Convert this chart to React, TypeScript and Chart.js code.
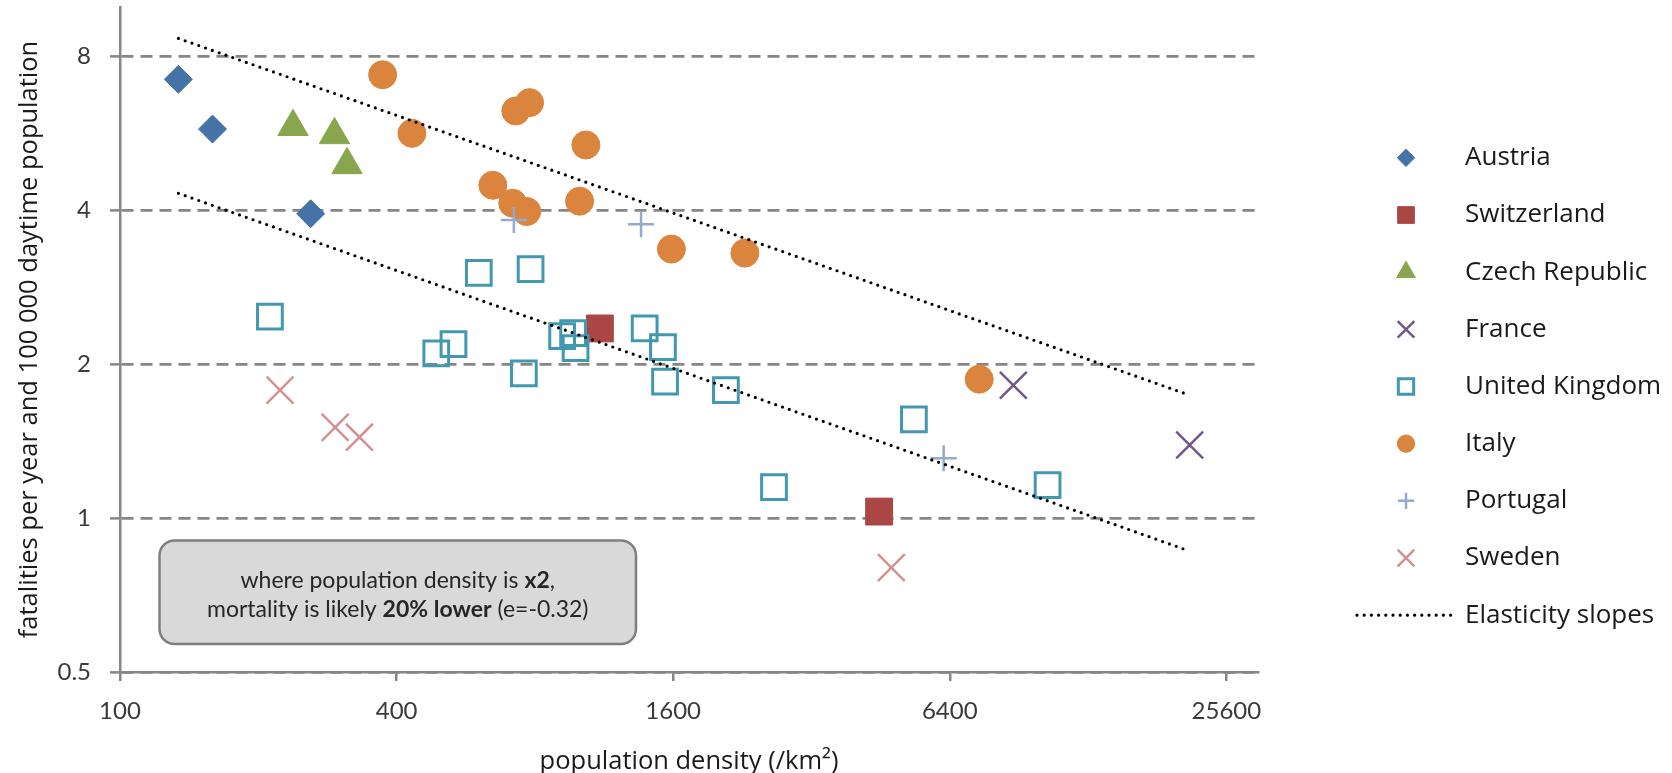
import React, { useEffect, useRef } from 'react';
import { Chart, registerables } from 'chart.js';
import { drawPoint } from 'chart.js/helpers';

Chart.register(...registerables);

// ---------- data ----------
const X_TICKS = [100, 400, 1600, 6400, 25600];
const Y_TICKS = [0.5, 1, 2, 4, 8];
const X_MIN = 100;
const X_MAX = 30000;
const Y_MIN = 0.5;
const Y_MAX = 10;

const austriaX = [134, 159, 260];
const austriaY = [7.22, 5.77, 3.94];
const switzerlandX = [1108, 4492];
const switzerlandY = [2.35, 1.03];
const czechX = [238, 293, 312];
const czechY = [5.83, 5.62, 4.91];
const franceX = [8800, 21300];
const franceY = [1.82, 1.39];
const ukX = [212, 488, 532, 604, 757, 783, 917, 969, 981, 1387, 1520, 1536, 2084, 2652, 5347, 10450];
const ukY = [2.48, 2.1, 2.19, 3.02, 1.92, 3.07, 2.27, 2.3, 2.15, 2.35, 2.16, 1.85, 1.78, 1.15, 1.56, 1.16];
const italyX = [373, 432, 648, 716, 727, 768, 779, 1001, 1033, 1586, 2292, 7418];
const italyY = [7.37, 5.66, 4.48, 4.13, 6.26, 3.98, 6.5, 4.17, 5.37, 3.36, 3.3, 1.87];
const portugalX = [720, 1362, 6207];
const portugalY = [3.83, 3.76, 1.31];
const swedenX = [223, 294, 332, 4775];
const swedenY = [1.78, 1.505, 1.44, 0.8];
const slopeX = [134, 21300];
const slopeUpperY = [8.68, 1.74];
const slopeLowerY = [4.32, 0.862];

const X_TITLE = 'population density (/km²)';
const Y_TITLE = 'fatalities per year and 100 000 daytime population';
const NOTE_LINE1 = [
  { t: 'where population density is ', b: false },
  { t: 'x2', b: true },
  { t: ',', b: false },
];
const NOTE_LINE2 = [
  { t: 'mortality is likely ', b: false },
  { t: '20% lower', b: true },
  { t: ' (e=-0.32)', b: false },
];

// ---------- helpers ----------
const pts = (xs: number[], ys: number[]) => xs.map((x, i) => ({ x, y: ys[i] }));

const GRAY = '#868686';
const TRANSPARENT = 'rgba(0,0,0,0)';

function markerSeries(label: string, xs: number[], ys: number[], style: string, radius: number, fill: string, stroke: string, bw: number, order: number) {
  return {
    label,
    data: pts(xs, ys),
    pointStyle: style,
    pointRadius: radius,
    pointHoverRadius: radius,
    pointBackgroundColor: fill,
    pointBorderColor: stroke,
    pointBorderWidth: bw,
    pointHoverBorderWidth: bw,
    backgroundColor: fill,
    borderColor: stroke,
    borderWidth: bw,
    showLine: false,
    order,
  };
}

function slopeSeries(label: string, ys: number[], inLegend: boolean) {
  return {
    label,
    data: pts(slopeX, ys),
    showLine: true,
    pointRadius: 0,
    pointHoverRadius: 0,
    borderColor: '#000000',
    backgroundColor: '#000000',
    borderWidth: 3.2,
    borderDash: [0, 7.2],
    borderCapStyle: 'round',
    tension: 0,
    fill: false,
    order: 1,
    inLegend,
  };
}

const annotationPlugin = {
  id: 'noteBox',
  afterDatasetsDraw(chart: any) {
    const { ctx, chartArea: ca } = chart;
    const left = ca.left + 39.5;
    const top = ca.bottom - 131.5;
    const w = 476.5;
    const h = 103.5;
    const r = 15;
    ctx.save();
    ctx.beginPath();
    ctx.moveTo(left + r, top);
    ctx.lineTo(left + w - r, top);
    ctx.arcTo(left + w, top, left + w, top + r, r);
    ctx.lineTo(left + w, top + h - r);
    ctx.arcTo(left + w, top + h, left + w - r, top + h, r);
    ctx.lineTo(left + r, top + h);
    ctx.arcTo(left, top + h, left, top + h - r, r);
    ctx.lineTo(left, top + r);
    ctx.arcTo(left, top, left + r, top, r);
    ctx.closePath();
    ctx.fillStyle = '#d9d9d9';
    ctx.fill();
    ctx.lineWidth = 2.5;
    ctx.strokeStyle = '#7f7f7f';
    ctx.stroke();

    const fontFor = (b: boolean) => `${b ? 'bold ' : ''}23px Lato`;
    const drawRich = (parts: { t: string; b: boolean }[], cx: number, y: number) => {
      const widths = parts.map((p) => {
        ctx.font = fontFor(p.b);
        return ctx.measureText(p.t).width;
      });
      const total = widths.reduce((a, b) => a + b, 0);
      let x = cx - total / 2;
      parts.forEach((p, i) => {
        ctx.font = fontFor(p.b);
        ctx.fillText(p.t, x, y);
        x += widths[i];
      });
    };
    ctx.fillStyle = '#262626';
    ctx.textAlign = 'left';
    ctx.textBaseline = 'alphabetic';
    const cx = left + w / 2;
    drawRich(NOTE_LINE1, cx, top + 47.5);
    drawRich(NOTE_LINE2, cx, top + 76.5);
    ctx.restore();
  },
};

const legendPlugin = {
  id: 'sideLegend',
  afterDraw(chart: any) {
    const { ctx, chartArea: ca } = chart;
    const items = chart.data.datasets.filter((d: any) => d.inLegend !== false);
    const step = 57.16;
    const y0 = chart.height / 2 - ((items.length - 1) / 2) * step;
    const markerX = ca.right + 148;
    const textX = ca.right + 207;
    ctx.save();
    items.forEach((d: any, i: number) => {
      const y = y0 + i * step;
      ctx.save();
      if (d.showLine) {
        ctx.strokeStyle = d.borderColor;
        ctx.lineWidth = d.borderWidth;
        ctx.lineCap = 'round';
        ctx.setLineDash(d.borderDash);
        ctx.beginPath();
        ctx.moveTo(ca.right + 99, y);
        ctx.lineTo(ca.right + 194, y);
        ctx.stroke();
      } else {
        ctx.fillStyle = d.pointBackgroundColor;
        ctx.strokeStyle = d.pointBorderColor;
        ctx.lineWidth = d.pointBorderWidth;
        drawPoint(ctx, {
          pointStyle: d.pointStyle,
          rotation: 0,
          radius: d.pointRadius * 0.62,
          borderWidth: d.pointBorderWidth,
        } as any, markerX, y);
      }
      ctx.restore();
      ctx.fillStyle = '#1a1a1a';
      ctx.font = '26px "Open Sans"';
      ctx.textAlign = 'left';
      ctx.textBaseline = 'middle';
      ctx.fillText(d.label, textX, y);
    });
    ctx.restore();
  },
};

function buildConfig(): any {
  return {
    type: 'scatter',
    data: {
      datasets: [
        markerSeries('Austria', austriaX, austriaY, 'rectRot', 14, '#4572A7', '#4572A7', 1, 9),
        markerSeries('Switzerland', switzerlandX, switzerlandY, 'rect', 19, '#AA4643', '#AA4643', 1, 8),
        markerSeries('Czech Republic', czechX, czechY, 'triangle', 17.5, '#89A54E', '#89A54E', 1, 7),
        markerSeries('France', franceX, franceY, 'crossRot', 19, TRANSPARENT, '#71588F', 2.5, 6),
        markerSeries('United Kingdom', ukX, ukY, 'rect', 17.5, TRANSPARENT, '#4198AF', 3, 5),
        markerSeries('Italy', italyX, italyY, 'circle', 14, '#DB843D', '#DB843D', 1, 4),
        markerSeries('Portugal', portugalX, portugalY, 'cross', 13, TRANSPARENT, '#93A9CF', 2.5, 3),
        markerSeries('Sweden', swedenX, swedenY, 'crossRot', 19, TRANSPARENT, '#D19392', 2.5, 2),
        slopeSeries('Elasticity slopes', slopeUpperY, true),
        slopeSeries('Elasticity slopes (lower)', slopeLowerY, false),
      ],
    },
    options: {
      responsive: false,
      animation: false,
      events: [],
      layout: { autoPadding: false, padding: { left: 0, right: 414, top: 7, bottom: 0 } },
      plugins: {
        legend: { display: false },
        tooltip: { enabled: false },
      },
      scales: {
        x: {
          type: 'logarithmic',
          min: X_MIN,
          max: X_MAX,
          bounds: 'data',
          afterBuildTicks: (s: any) => {
            s.ticks = X_TICKS.map((v) => ({ value: v }));
          },
          afterFit: (s: any) => {
            s.height = 101;
            s.paddingLeft = 0;
            s.paddingRight = 0;
            s.paddingTop = 0;
            s.paddingBottom = 0;
          },
          ticks: {
            autoSkip: false,
            maxRotation: 0,
            padding: 15.5,
            font: { family: 'Lato', size: 24 },
            color: '#3a3a3a',
            callback: (v: any) => String(v),
          },
          grid: {
            drawOnChartArea: false,
            drawTicks: true,
            tickLength: 9,
            tickColor: GRAY,
            tickWidth: 2.5,
            color: GRAY,
            lineWidth: 2.5,
          },
          border: { display: true, color: GRAY, width: 2.5 },
          title: {
            display: true,
            text: X_TITLE,
            font: { family: 'Open Sans', size: 25.5 },
            color: '#1a1a1a',
            padding: { top: 0, bottom: -4 },
          },
        },
        y: {
          type: 'logarithmic',
          min: Y_MIN,
          max: Y_MAX,
          bounds: 'data',
          afterBuildTicks: (s: any) => {
            s.ticks = Y_TICKS.map((v) => ({ value: v }));
          },
          afterFit: (s: any) => {
            s.width = 120;
            s.paddingLeft = 0;
            s.paddingRight = 0;
            s.paddingTop = 0;
            s.paddingBottom = 0;
          },
          ticks: {
            autoSkip: false,
            padding: 19,
            font: { family: 'Lato', size: 24 },
            color: '#3a3a3a',
            callback: (v: any) => String(v),
          },
          grid: {
            color: GRAY,
            lineWidth: 2.75,
            drawTicks: true,
            tickLength: 10,
            tickColor: GRAY,
            tickWidth: 2.5,
            tickBorderDash: [],
          },
          border: { display: true, color: GRAY, width: 2.5, dash: [12, 7] },
          title: {
            display: true,
            text: Y_TITLE,
            font: { family: 'Open Sans', size: 25.5 },
            color: '#1a1a1a',
            padding: { top: 14, bottom: 0 },
          },
        },
      },
    },
    plugins: [annotationPlugin, legendPlugin],
  };
}

export default function App() {
  const ref = useRef<HTMLCanvasElement>(null);
  useEffect(() => {
    let chart: any = null;
    let cancelled = false;
    const build = () => {
      if (cancelled || !ref.current) return;
      chart = new Chart(ref.current, buildConfig());
    };
    const fonts = ['24px Lato', '23px Lato', 'bold 23px Lato', '25.5px "Open Sans"', '26px "Open Sans"'];
    Promise.all(fonts.map((f) => (document as any).fonts.load(f))).then(build, build);
    return () => {
      cancelled = true;
      if (chart) chart.destroy();
    };
  }, []);
  return (
    <div style={{ position: 'fixed', left: 0, top: 0, width: 1672, height: 773, background: '#ffffff' }}>
      <canvas ref={ref} width={1672} height={773} style={{ display: 'block', width: 1672, height: 773 }} />
    </div>
  );
}
